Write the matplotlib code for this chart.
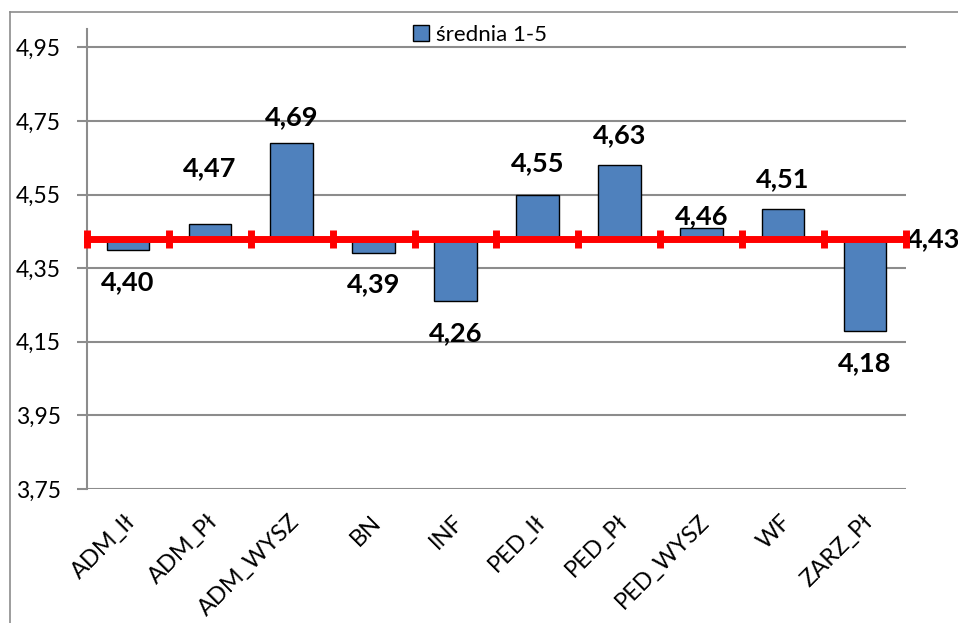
import numpy as np
import matplotlib
matplotlib.use("Agg")
import matplotlib.pyplot as plt
import matplotlib.transforms as mtransforms
from matplotlib.lines import Line2D
from matplotlib.patches import Patch

plt.rcParams['font.family'] = ['Lato', 'DejaVu Sans']

# data
categories = ['ADM_Ił', 'ADM_Pł', 'ADM_WYSZ', 'BN', 'INF',
              'PED_Ił', 'PED_Pł', 'PED_WYSZ', 'WF', 'ZARZ_Pł']
values = [4.40, 4.47, 4.69, 4.39, 4.26, 4.55, 4.63, 4.46, 4.51, 4.18]
average = 4.43
series_name = 'średnia 1-5'

# label distance from bar end in pixels (labels were moved by hand in the original)
label_gap_px = [32, 56, 26, 31, 32, 31, 30, 12, 30, 32]

fig = plt.figure(figsize=(9.58, 6.23), dpi=100)
ax = fig.add_axes([0.0908, 0.2151, 0.9457 - 0.0908, 0.9535 - 0.2151])

x = np.arange(len(categories))
heights = [v - average for v in values]
bar_color = '#4F81BD'
ax.bar(x, heights, bottom=average, width=0.52, color=bar_color,
       edgecolor='black', linewidth=1, zorder=3)

# average line with boundary markers
bx = np.arange(len(categories) + 1) - 0.5
ax.plot(bx, [average] * len(bx), color='#FF0000', linewidth=5,
        marker='|', markersize=12.5, markeredgewidth=5, zorder=4, clip_on=False)

def fmt(v):
    return f'{v:.2f}'.replace('.', ',')

for xi, v, gap in zip(x, values, label_gap_px):
    sign = 1 if v >= average else -1
    ax.annotate(fmt(v), (xi, v), xytext=(0, sign * gap * 0.72),
                textcoords='offset points', ha='center', va='center',
                fontsize=19.5, fontweight='bold', zorder=5)

# average label sits at the right edge and is cut off, as in the original
ax.annotate(fmt(average), (bx[-1], average), xytext=(1, 0),
            textcoords='offset points', ha='left', va='center',
            fontsize=19.5, fontweight='bold', annotation_clip=False)

ax.set_xlim(-0.5, len(categories) - 0.5)
ax.set_ylim(3.75, 5.0)
yt = np.arange(3.75, 4.96, 0.2)
ax.set_yticks(yt)
ax.set_yticklabels([fmt(t) for t in yt], fontsize=16.5)
ax.yaxis.grid(True, color='#8C8C8C', linewidth=1.5, zorder=0)
ax.set_axisbelow(True)
ax.tick_params(axis='y', length=7, width=1.5, color='#8C8C8C', pad=12)

ax.set_xticks(x)
ax.set_xticklabels(categories, rotation=45, ha='right', rotation_mode='anchor',
                   fontsize=17)
ax.tick_params(axis='x', length=0, pad=16)
shift = mtransforms.ScaledTranslation(-3 / 100, 0, fig.dpi_scale_trans)
for lbl in ax.get_xticklabels():
    lbl.set_transform(lbl.get_transform() + shift)

for s in ['top', 'right', 'bottom']:
    ax.spines[s].set_visible(False)
ax.spines['left'].set_color('#8C8C8C')
ax.spines['left'].set_linewidth(1.5)

fig.legend(handles=[Patch(facecolor=bar_color, edgecolor='black', label=series_name)],
           loc='center', bbox_to_anchor=(0.501, 0.944), frameon=False,
           fontsize=16, handlelength=0.7, handleheight=0.7, handletextpad=0.3)

# outer chart border (cut off at the bottom and right)
fig.add_artist(Line2D([0.0104, 0.0104], [0.981, 0.0], transform=fig.transFigure,
                      color='#8C8C8C', linewidth=1.2))
fig.add_artist(Line2D([0.0104, 1.0], [0.981, 0.981], transform=fig.transFigure,
                      color='#8C8C8C', linewidth=1.2))

fig.savefig('out.png', dpi=100)
